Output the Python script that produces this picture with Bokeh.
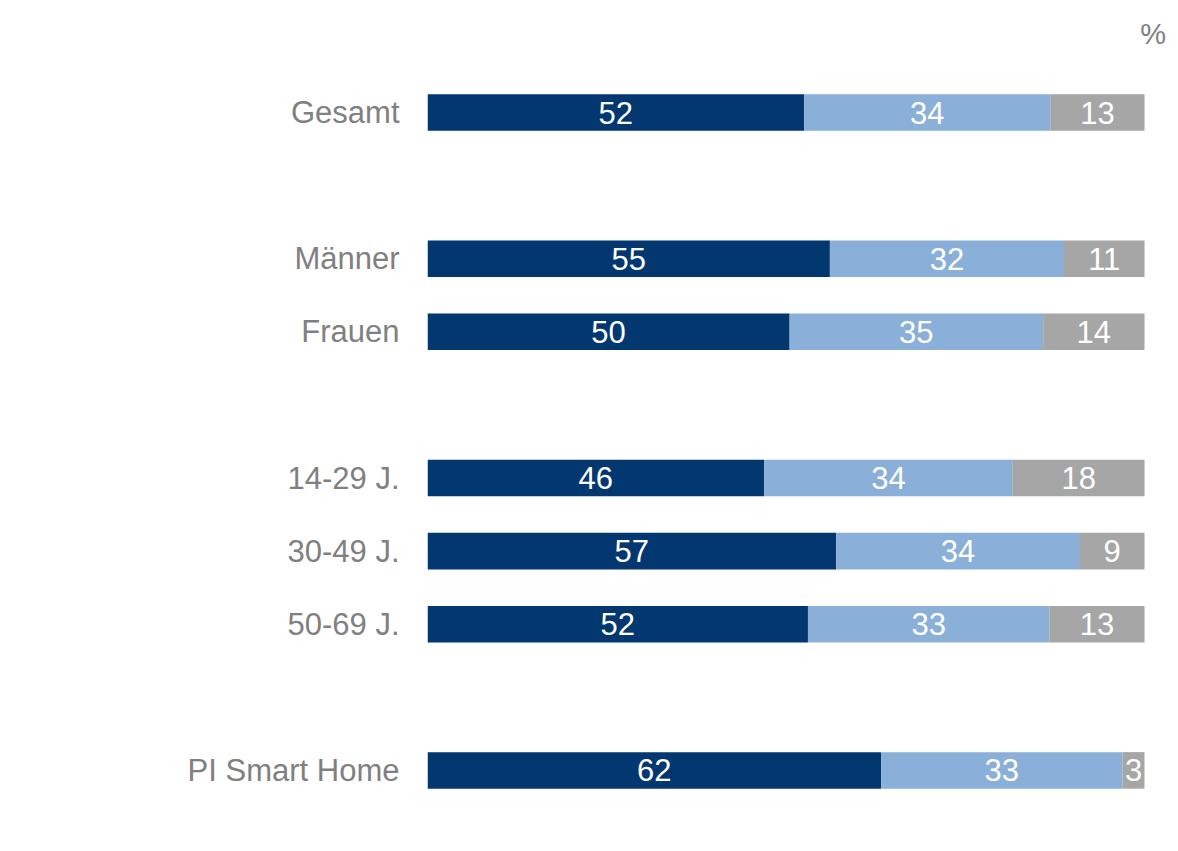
from bokeh.plotting import figure
from bokeh.models import Range1d, FixedTicker, ColumnDataSource, Label
from bokeh.core.properties import value
from bokeh.embed import file_html
from bokeh.resources import INLINE

categories = ["Gesamt", "Männer", "Frauen", "14-29 J.", "30-49 J.", "50-69 J.", "PI Smart Home"]
slots = [0, 2, 3, 5, 6, 7, 9]  # row slot (blank slots separate groups)
s1 = [52, 55, 50, 46, 57, 52, 62]
s2 = [34, 32, 35, 34, 34, 33, 33]
s3 = [13, 11, 14, 18, 9, 13, 3]
colors = ["#02376F", "#8AAFD8", "#A6A6A6"]
FONT = "Liberation Sans"

W, H = 1172, 845
left_px = 427
frame_w = W - left_px
unit_px = 717.0
slot_px = 73.1
y_top = -112.0 / slot_px
y_bot = y_top + H / slot_px
p = figure(width=W, height=H, output_backend="svg", toolbar_location=None,
           x_range=Range1d(0, frame_w / unit_px), y_range=Range1d(y_bot, y_top),
           min_border_left=left_px, min_border_right=0, min_border_top=0, min_border_bottom=0)
p.xaxis.visible = False
p.xgrid.visible = False
p.ygrid.visible = False
p.outline_line_color = None
p.background_fill_color = "white"
p.border_fill_color = "white"

ya = p.yaxis[0]
ya.ticker = FixedTicker(ticks=slots)
ya.major_label_overrides = {s: c for s, c in zip(slots, categories)}
ya.axis_line_color = None
ya.major_tick_line_color = None
ya.minor_tick_line_color = None
ya.major_tick_in = 0
ya.major_tick_out = 0
ya.major_label_text_font = FONT
ya.major_label_text_font_size = "31px"
ya.major_label_text_color = "#808080"
ya.major_label_standoff = 28

tot = [a + b + c for a, b, c in zip(s1, s2, s3)]
l1 = [0.0] * len(s1)
r1 = [a / t for a, t in zip(s1, tot)]
r2 = [(a + b) / t for a, b, t in zip(s1, s2, tot)]
r3 = [(a + b + c) / t for a, b, c, t in zip(s1, s2, s3, tot)]

segs = [(l1, r1, s1, colors[0]), (r1, r2, s2, colors[1]), (r2, r3, s3, colors[2])]
for lft, rgt, vals, col in segs:
    src = ColumnDataSource(dict(y=slots, left=lft, right=rgt,
                                mid=[(a + b) / 2 for a, b in zip(lft, rgt)],
                                txt=[str(v) for v in vals]))
    p.hbar(y="y", left="left", right="right", height=0.5, fill_color=col,
           line_color=None, source=src)
    p.text(x="mid", y="y", text="txt", source=src, text_align="center",
           text_baseline="middle", text_color="white", text_font=value(FONT),
           text_font_size="31px")

p.add_layout(Label(x=1.03, y=-1.08, text="%",
                   text_align="right", text_baseline="middle", text_font=FONT,
                   text_font_size="29px", text_color="#808080"))

open("out.html", "w").write(file_html(p, INLINE))
